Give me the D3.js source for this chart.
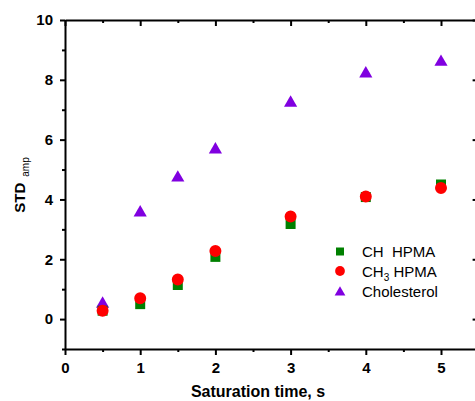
<!DOCTYPE html>
<html>
<head>
<meta charset="utf-8">
<script src="https://cdn.jsdelivr.net/npm/d3@7"></script>
<style>
  html, body { margin: 0; padding: 0; background: #fff; }
  svg { display: block; font-family: "Liberation Sans", Arial, sans-serif; }
</style>
</head>
<body>
<svg id="chart" width="475" height="401"></svg>
<script>
// Saturation time (s) for each measurement
const times = [0.5, 1, 1.5, 2, 3, 4, 5];
// STD_amp values per group
const chHpma = [0.28, 0.5, 1.14, 2.08, 3.18, 4.08, 4.5];
const ch3Hpma = [0.28, 0.7, 1.32, 2.28, 3.43, 4.1, 4.38];
const cholesterol = [0.57, 3.62, 4.79, 5.73, 7.29, 8.27, 8.66];

const xTicks = [0, 1, 2, 3, 4, 5];
const yTicks = [0, 2, 4, 6, 8, 10];

const seriesNames = ["CH  HPMA", "CH3 HPMA", "Cholesterol"];
const colors = ["#008000", "#ff0000", "#8000e0"];

const svg = d3.select("#chart");
const x = d3.scaleLinear().domain([0, 5.5]).range([65, 478.6]);
const y = d3.scaleLinear().domain([-1, 10]).range([349, 20]);

const xMinor = d3.range(0.5, 5.5, 1);
const yMinor = d3.range(-1, 10, 2);

function styleAxis(g) {
  g.select(".domain").attr("stroke", "#000").attr("stroke-width", 2);
  g.selectAll(".tick line").attr("stroke", "#000").attr("stroke-width", 2);
  g.selectAll("text").attr("font-size", 15).attr("font-weight", "bold")
    .attr("fill", "#000").attr("font-family", "'Liberation Sans', Arial, sans-serif");
}

// bottom axis: major + minor ticks outward
const gb = svg.append("g").attr("transform", `translate(0,${y(-1)})`)
  .call(d3.axisBottom(x).tickValues(xTicks).tickSize(6).tickSizeOuter(0).tickFormat(d3.format("d")));
styleAxis(gb);
gb.selectAll(".tick text").attr("y", 24).attr("dy", 0);
svg.append("g").attr("transform", `translate(0,${y(-1)})`)
  .call(d3.axisBottom(x).tickValues(xMinor).tickSize(3).tickSizeOuter(0).tickFormat(""))
  .call(g => { g.select(".domain").remove(); g.selectAll("line").attr("stroke", "#000").attr("stroke-width", 2); });

// top axis: ticks pointing into the plot
const gt = svg.append("g").attr("transform", `translate(0,${y(10)})`)
  .call(d3.axisBottom(x).tickValues(xTicks).tickSize(6).tickSizeOuter(0).tickFormat(""));
styleAxis(gt);
svg.append("g").attr("transform", `translate(0,${y(10)})`)
  .call(d3.axisBottom(x).tickValues(xMinor).tickSize(3).tickSizeOuter(0).tickFormat(""))
  .call(g => { g.select(".domain").remove(); g.selectAll("line").attr("stroke", "#000").attr("stroke-width", 2); });

// left axis
const gl = svg.append("g").attr("transform", `translate(${x(0)},0)`)
  .call(d3.axisLeft(y).tickValues(yTicks).tickSize(5).tickPadding(7).tickSizeOuter(0).tickFormat(d3.format("d")));
styleAxis(gl);
svg.append("g").attr("transform", `translate(${x(0)},0)`)
  .call(d3.axisLeft(y).tickValues(yMinor).tickSize(3).tickSizeOuter(0).tickFormat(""))
  .call(g => { g.select(".domain").remove(); g.selectAll("line").attr("stroke", "#000").attr("stroke-width", 2); });

// right axis: ticks pointing into the plot
const gr = svg.append("g").attr("transform", `translate(${x(5.5)},0)`)
  .call(d3.axisLeft(y).tickValues(yTicks).tickSize(-6).tickSizeOuter(0).tickFormat(""));
gr.selectAll(".tick line").attr("x2", -6);
styleAxis(gr);
svg.append("g").attr("transform", `translate(${x(5.5)},0)`)
  .call(d3.axisLeft(y).tickValues(yMinor).tickSize(-3).tickSizeOuter(0).tickFormat(""))
  .call(g => { g.select(".domain").remove(); g.selectAll("line").attr("x2", -3).attr("stroke", "#000").attr("stroke-width", 2); });

// axis titles
svg.append("text")
  .attr("x", 258).attr("y", 397)
  .attr("text-anchor", "middle")
  .attr("font-size", 16).attr("font-weight", "bold")
  .text("Saturation time, s");

const yl = svg.append("text")
  .attr("transform", "translate(25,185) rotate(-90)")
  .attr("text-anchor", "middle")
  .attr("font-size", 15).attr("font-weight", "bold");
yl.append("tspan").text("STD");
yl.append("tspan").attr("dx", 6).attr("dy", 4).attr("font-size", 10).attr("font-weight", "normal").text("amp");

// markers
const triArea = 75;
const triH = Math.sqrt(triArea * 4 / Math.sqrt(3)) * Math.sqrt(3) / 2;
const sym = {
  square: d3.symbol().type(d3.symbolSquare).size(100),
  circle: d3.symbol().type(d3.symbolCircle).size(113),
  triangle: d3.symbol().type(d3.symbolTriangle).size(triArea)
};

function drawSeries(values, path, color, dy) {
  svg.append("g").selectAll("path").data(times.map((t, i) => [t, values[i]]))
    .join("path")
    .attr("d", path)
    .attr("transform", d => `translate(${x(d[0])},${y(d[1]) + dy})`)
    .attr("fill", color);
}
drawSeries(cholesterol, sym.triangle(), colors[2], triH / 6);
drawSeries(chHpma, sym.square(), colors[0], 0);
drawSeries(ch3Hpma, sym.circle(), colors[1], 0);

// legend
const lg = svg.append("g");
const legSyms = [
  d3.symbol().type(d3.symbolSquare).size(64)(),
  d3.symbol().type(d3.symbolCircle).size(75)(),
  d3.symbol().type(d3.symbolTriangle).size(50)()
];
const legY = [251.5, 271, 291];
const legBase = [257, 277, 297];
legSyms.forEach((p, i) => {
  lg.append("path").attr("d", p)
    .attr("transform", `translate(340,${legY[i] + (i === 2 ? 1.5 : 0)})`)
    .attr("fill", colors[i]);
});
lg.append("text").attr("x", 362).attr("y", legBase[0]).attr("font-size", 15)
  .style("white-space", "pre").text(seriesNames[0]);
const t2 = lg.append("text").attr("x", 362).attr("y", legBase[1]).attr("font-size", 15)
  .style("white-space", "pre");
t2.append("tspan").text("CH");
t2.append("tspan").attr("font-size", 10).attr("dy", 4).text("3");
t2.append("tspan").attr("dy", -4).text(" HPMA");
lg.append("text").attr("x", 362).attr("y", legBase[2]).attr("font-size", 15).text(seriesNames[2]);
</script>
</body>
</html>
